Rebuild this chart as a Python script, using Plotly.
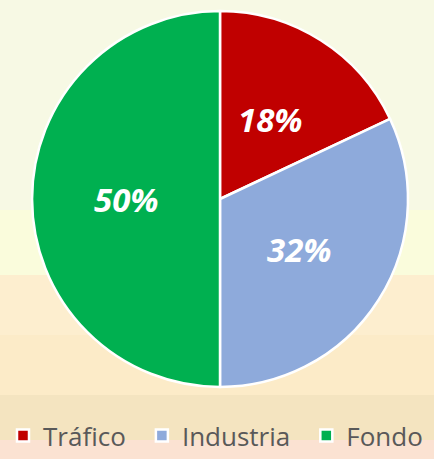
import math
import plotly.graph_objects as go

categories = ["Tráfico", "Industria", "Fondo"]
values = [18, 32, 50]
colors = ["#c00000", "#8eaadb", "#00b050"]

W, H = 434, 459
CX, CY, R = 220, 199, 188  # pie centre / radius in pixels (layout)

# legend names padded slightly so the entries spread like the reference
legend_names = [c + "\u00a0\u2009" if i < len(categories) - 1 else c for i, c in enumerate(categories)]

fig = go.Figure()
fig.add_trace(go.Pie(
    labels=legend_names,
    values=values,
    sort=False,
    direction="clockwise",
    rotation=0,
    marker=dict(colors=colors, line=dict(color="white", width=2.5)),
    textinfo="none",
    hoverinfo="skip",
    domain=dict(x=[(CX - R) / W, (CX + R) / W], y=[(H - CY - R) / H, (H - CY + R) / H]),
))

# percentage labels placed at half radius on each slice's bisector
total = sum(values)
annotations = []
cum = 0
for v in values:
    mid = (cum + v / 2) / total * 2 * math.pi
    cum += v
    px = CX + 0.5 * R * math.sin(mid)
    py = CY - 0.5 * R * math.cos(mid)
    annotations.append(dict(
        x=px / W, y=1 - py / H, xref="paper", yref="paper", showarrow=False,
        text=f"{round(v / total * 100)}%",
        font=dict(family="Open Sans", size=33, color="white", weight="bold", style="italic"),
        xanchor="center", yanchor="middle",
    ))

bands = [
    (0, 210, "#f7f9e4"),
    (210, 275, "#fafcdc"),
    (275, 335, "#fdeecf"),
    (335, 395, "#fcebc8"),
    (395, 440, "#f4e4c0"),
    (440, 459, "#fbe2d2"),
]
shapes = []
for y0, y1, c in bands:
    shapes.append(dict(type="rect", xref="paper", yref="paper", x0=0, x1=1,
                       y0=1 - y1 / H, y1=1 - y0 / H, fillcolor=c, line=dict(width=0), layer="below"))

fig.update_layout(
    width=W, height=H,
    margin=dict(l=0, r=0, t=0, b=0, autoexpand=False),
    paper_bgcolor="#f7f9e4",
    plot_bgcolor="rgba(0,0,0,0)",
    shapes=shapes,
    annotations=annotations,
    showlegend=True,
    legend=dict(orientation="h", x=3 / W, xanchor="left", y=0, yanchor="bottom",
                font=dict(family="Open Sans", size=26, color="#595959"),
                bgcolor="rgba(0,0,0,0)", borderwidth=0, itemwidth=30, tracegroupgap=0),
)
fig.write_html("out.html", config={"displayModeBar": False},
               post_script="document.body.style.margin='0';document.body.style.padding='0';")
